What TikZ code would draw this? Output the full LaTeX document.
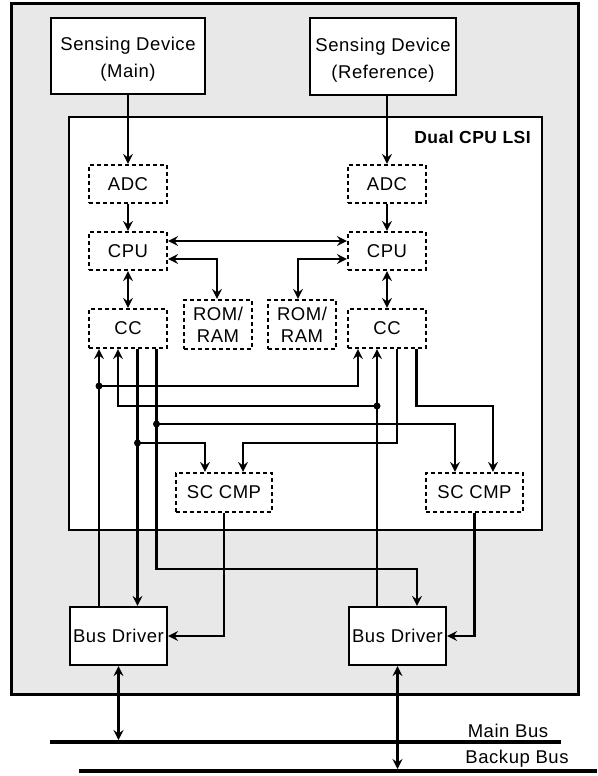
\documentclass[tikz,border=0pt]{standalone}
\usepackage{fontspec}
\setmainfont{Liberation Sans}[LetterSpace=3]
\usetikzlibrary{arrows.meta,calc}
\definecolor{bggray}{RGB}{232,232,232}
\begin{document}
\begin{tikzpicture}[x=1pt,y=-1pt,
  every node/.style={font=\fontsize{18.5}{22}\selectfont, inner sep=0pt},
  sbox/.style={draw, line width=2.2pt, fill=white, align=center},
  dbox/.style={draw, line width=2.2pt, dash pattern=on 4pt off 3pt, fill=white, align=center},
  tip/.tip={Stealth[length=10pt,width=10pt,inset=3.5pt]},
  conn/.style={line width=2.2pt, -tip},
  dconn/.style={line width=2.2pt, tip-tip},
  bus/.style={line width=4.5pt},
  dot/.style={fill=black}]
\useasboundingbox (0,0) rectangle (597,776);
% outer and inner frames
\draw[line width=3pt, fill=bggray] (11,4) rectangle (578,694);
\draw[line width=2.5pt, fill=white] (69,117) rectangle (542,530);
\node[font=\fontsize{17.5}{20}\selectfont\bfseries, anchor=east] (lsi) at (531,137) {Dual CPU LSI};
% sensing devices
\node[sbox, minimum width=154pt, minimum height=76pt] (s1) at (128,56) {\rule{0pt}{20pt}Sensing Device\\[5pt](Main)};
\node[sbox, minimum width=146pt, minimum height=77pt] (s2) at (383,56.5) {\rule{0pt}{20pt}Sensing Device\\[5pt](Reference)};
% ADC
\node[dbox, minimum width=78pt, minimum height=38pt] (adc1) at (128,184) {ADC};
\node[dbox, minimum width=78pt, minimum height=38pt] (adc2) at (387,184) {ADC};
% CPU
\node[dbox, minimum width=78pt, minimum height=38pt] (cpu1) at (128,251) {CPU};
\node[dbox, minimum width=78pt, minimum height=38pt] (cpu2) at (387,251) {CPU};
% CC
\node[dbox, minimum width=78pt, minimum height=39pt] (cc1) at (128,328.5) {CC};
\node[dbox, minimum width=78pt, minimum height=39pt] (cc2) at (387,328.5) {CC};
% ROM/RAM
\node[dbox, minimum width=68pt, minimum height=49pt] (rom1) at (218,324.5) {ROM/\\[0pt]RAM};
\node[dbox, minimum width=68pt, minimum height=49pt] (rom2) at (302,324.5) {ROM/\\[0pt]RAM};
% SC CMP
\node[dbox, minimum width=96pt, minimum height=39pt] (sc1) at (224,492.5) {SC CMP};
\node[dbox, minimum width=97pt, minimum height=39pt] (sc2) at (474.5,492.5) {SC CMP};
% Bus drivers
\node[sbox, minimum width=97pt, minimum height=58pt] (bd1) at (118.5,636) {Bus Driver};
\node[sbox, minimum width=97pt, minimum height=58pt] (bd2) at (397.5,636) {Bus Driver};
% buses
\draw[bus] (50,742) -- (561,742);
\draw[bus] (79,771) -- (597,771);
\node (mbl) at (508,731) {Main Bus};
\node (bbl) at (517,759) {Backup Bus};
\coordinate (mb) at (118.5,740);
\coordinate (bb) at (397.5,769);
% top connections
\draw[conn] (s1) -- (adc1);
\draw[conn] (s2.south -| adc2) -- (adc2.north);
\draw[conn] (adc1) -- (cpu1);
\draw[conn] (adc2) -- (cpu2);
\draw[dconn] (cpu1) -- (cc1);
\draw[dconn] (cpu2) -- (cc2);
\draw[dconn] ([yshift=10pt]cpu1.east) -- ([yshift=10pt]cpu2.west);
\draw[dconn] ([yshift=-8pt]cpu1.east) -| ([xshift=-1pt]rom1.north);
\draw[dconn] ([yshift=-8pt]cpu2.west) -| ([xshift=-4pt]rom2.north);
% CC port coordinates
\coordinate (c1a) at ([xshift=-29pt]cc1.south);
\coordinate (c1b) at ([xshift=-10pt]cc1.south);
\coordinate (c1c) at ([xshift=9.5pt]cc1.south);
\coordinate (c1d) at ([xshift=28.5pt]cc1.south);
\coordinate (c2a) at ([xshift=-29pt]cc2.south);
\coordinate (c2b) at ([xshift=-10pt]cc2.south);
\coordinate (c2c) at ([xshift=10pt]cc2.south);
\coordinate (c2d) at ([xshift=29.5pt]cc2.south);
% junctions and bends
\coordinate (j1) at (99,386);
\coordinate (j2) at (377,406);
\coordinate (j3) at (156.5,424);
\coordinate (j4) at (137.5,443);
\coordinate (k) at (417,569);
\coordinate (m) at (243,443);
\coordinate (n) at (493,406);
\coordinate (p) at (205,443);
\coordinate (q) at (455,424);
% CC / bus driver / SC CMP wiring
\draw[conn] (bd1.north -| c1a) -- (c1a);
\draw[conn] (j1) -| (c2a);
\draw[conn] (bd2.north -| c2b) -- (c2b);
\draw[conn] (j2) -| (c1b);
\draw[conn] (c1c) -- (bd1.north -| c1c);
\draw[conn] (j4) -- (p) -- (p |- sc1.north);
\draw[conn] (c1d) |- (k) -- (k |- bd2.north);
\draw[conn] (j3) -- (q) -- (q |- sc2.north);
\draw[conn] (c2c) |- (m) -- (m |- sc1.north);
\draw[conn] (c2d) |- (n) -- (n |- sc2.north);
\draw[conn] (sc1.south) |- (bd1.east);
\draw[conn] (sc2.south) |- (bd2.east);
\fill[dot] (j1) circle (3.5pt);
\fill[dot] (j2) circle (3.5pt);
\fill[dot] (j3) circle (3.5pt);
\fill[dot] (j4) circle (3.5pt);
% bus connections
\draw[dconn] (bd1.south) -- (mb);
\draw[dconn] (bd2.south) -- (bb);
\end{tikzpicture}
\end{document}
